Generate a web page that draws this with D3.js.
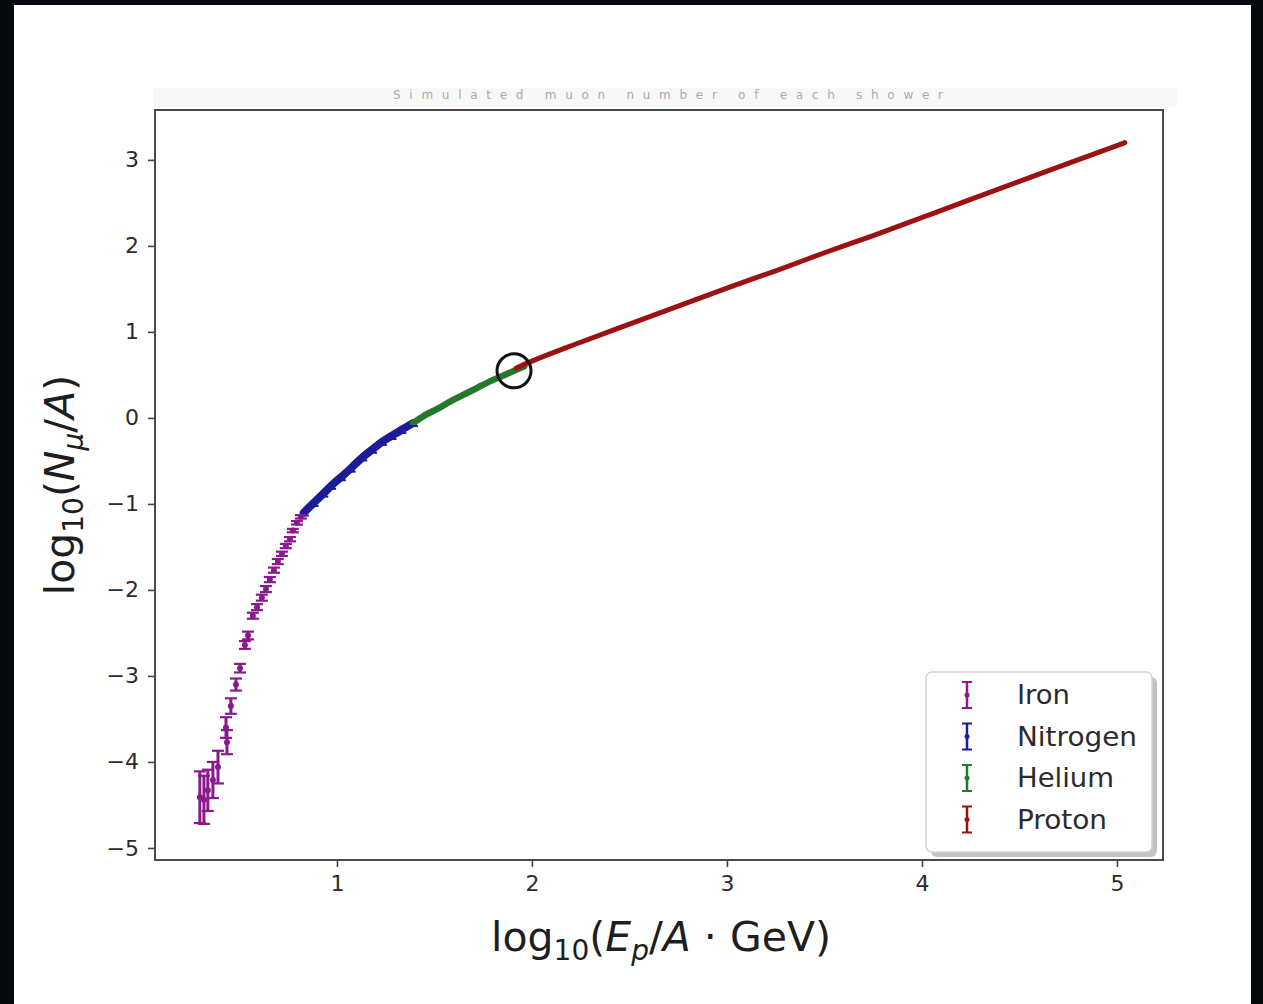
<!DOCTYPE html>
<html>
<head>
<meta charset="utf-8">
<script src="https://cdn.jsdelivr.net/npm/d3@7"></script>
<style>
  html, body { margin: 0; padding: 0; background: #ffffff; }
  svg { display: block; font-family: 'DejaVu Sans', sans-serif; }
</style>
</head>
<body>
<div id="graph"></div>
<script>
// Iron: x, y and error
const ironX = [0.297, 0.318, 0.338, 0.364, 0.390, 0.431, 0.436, 0.456, 0.482, 0.503,
  0.528, 0.544, 0.569, 0.590, 0.615, 0.636, 0.656, 0.677, 0.697, 0.718,
  0.738, 0.759, 0.774, 0.795, 0.815];
const ironY = [-4.41, -4.44, -4.33, -4.21, -4.06, -3.60, -3.77, -3.35, -3.10, -2.91,
  -2.64, -2.53, -2.30, -2.20, -2.09, -1.99, -1.88, -1.77, -1.67, -1.58,
  -1.49, -1.41, -1.31, -1.22, -1.15];
const ironErr = [0.30, 0.28, 0.24, 0.21, 0.19, 0.12, 0.14, 0.09, 0.07, 0.05,
  0.045, 0.045, 0.035, 0.035, 0.035, 0.035, 0.03, 0.03, 0.03, 0.025,
  0.025, 0.025, 0.02, 0.02, 0.02];

// Nitrogen
const nitrogenX = [0.83, 0.88, 0.93, 0.97, 1.02, 1.07, 1.13, 1.18, 1.23, 1.28, 1.33, 1.39];
const nitrogenY = [-1.10, -0.99, -0.88, -0.79, -0.69, -0.59, -0.46, -0.37, -0.28, -0.21, -0.14, -0.06];

// Helium
const heliumX = [1.39, 1.45, 1.52, 1.58, 1.65, 1.72, 1.79, 1.86, 1.93, 1.96];
const heliumY = [-0.06, 0.03, 0.11, 0.19, 0.27, 0.35, 0.43, 0.50, 0.57, 0.60];

// Proton
const protonX = [1.92, 2.0, 2.25, 2.5, 2.75, 3.0, 3.25, 3.5, 3.75, 4.0, 4.25, 4.5, 4.75, 5.04];
const protonY = [0.58, 0.66, 0.88, 1.09, 1.30, 1.51, 1.71, 1.92, 2.12, 2.33, 2.54, 2.75, 2.96, 3.20];

// Circled point where helium meets proton
const markX = [1.908];
const markY = [0.547];

// Ticks and legend
const xTicks = [1, 2, 3, 4, 5];
const yTicks = [3, 2, 1, 0, -1, -2, -3, -4, -5];
const seriesNames = ['Iron', 'Nitrogen', 'Helium', 'Proton'];
const seriesColors = ['#8a1a8c', '#1c1c98', '#23782a', '#9c1212'];

drawChart();

function drawChart() {
  const w = 1263;
  const h = 1004;

  // plot box
  const left = 155, right = 1163, top = 110, bottom = 860;

  const xScale = d3.scaleLinear().domain([0.067, 5.236]).range([left, right]);
  const yScale = d3.scaleLinear().domain([-5.14, 3.58]).range([bottom, top]);

  const svg = d3.select('#graph')
      .append('svg')
      .attr('width', w)
      .attr('height', h);

  // dark frame of the screenshot
  svg.append('rect').attr('x', 0).attr('y', 0).attr('width', w).attr('height', h).attr('fill', '#05080d');
  svg.append('rect').attr('x', 14).attr('y', 5).attr('width', 1237).attr('height', h - 5).attr('fill', '#ffffff');

  // washed-out title
  svg.append('rect')
      .attr('x', 153).attr('y', 88).attr('width', 1024).attr('height', 19)
      .attr('fill', '#f8f8f8');
  svg.append('text')
      .attr('x', 668).attr('y', 99)
      .attr('text-anchor', 'middle')
      .attr('font-size', 12)
      .attr('fill', '#acacac')
      .attr('textLength', 550)
      .attr('lengthAdjust', 'spacing')
      .text('Simulated muon number of each shower');

  // axes
  const xAxis = d3.axisBottom(xScale).tickValues(xTicks).tickSize(7).tickPadding(8)
      .tickFormat(d3.format('d'));
  const yAxis = d3.axisLeft(yScale).tickValues(yTicks).tickSize(7).tickPadding(9)
      .tickFormat((d) => (d < 0 ? '\u2212' + Math.abs(d) : d));

  const gx = svg.append('g')
      .attr('transform', 'translate(0,' + bottom + ')')
      .call(xAxis);
  const gy = svg.append('g')
      .attr('transform', 'translate(' + left + ',0)')
      .call(yAxis);

  [gx, gy].forEach(function(g) {
    g.select('.domain').remove();
    g.selectAll('line').attr('stroke', '#444').attr('stroke-width', 1.6);
    g.selectAll('text')
        .attr('font-family', "'DejaVu Sans', sans-serif")
        .attr('font-size', 22)
        .attr('fill', '#2b2b2b');
  });

  // frame of the axes
  svg.append('rect')
      .attr('x', left).attr('y', top)
      .attr('width', right - left).attr('height', bottom - top)
      .attr('fill', 'none')
      .attr('stroke', '#4a4a4a')
      .attr('stroke-width', 2);

  const plot = svg.append('g');

  const line = d3.line()
      .x((d) => xScale(d[0]))
      .y((d) => yScale(d[1]))
      .curve(d3.curveMonotoneX);

  // dense series drawn as thick lines of markers
  const dense = [
    {x: nitrogenX, y: nitrogenY, color: seriesColors[1], width: 8},
    {x: heliumX, y: heliumY, color: seriesColors[2], width: 6.5},
    {x: protonX, y: protonY, color: seriesColors[3], width: 5},
  ];
  dense.forEach(function(s) {
    const pts = s.x.map((v, i) => [v, s.y[i]]);
    plot.append('path')
        .datum(pts)
        .attr('d', line)
        .attr('fill', 'none')
        .attr('stroke', s.color)
        .attr('stroke-width', s.width)
        .attr('stroke-linecap', 'round');
  });

  // small caps along nitrogen for the jagged look
  plot.selectAll('.ncap')
      .data(nitrogenX.map((v, i) => [v, nitrogenY[i]]))
      .enter()
      .append('line')
      .attr('x1', (d) => xScale(d[0]) - 5)
      .attr('x2', (d) => xScale(d[0]) + 5)
      .attr('y1', (d) => yScale(d[1]) + 3)
      .attr('y2', (d) => yScale(d[1]) + 3)
      .attr('stroke', seriesColors[1])
      .attr('stroke-width', 2);

  // iron error bars
  const iron = ironX.map((v, i) => ({x: v, y: ironY[i], e: ironErr[i]}));
  const capW = 6;
  const ironG = plot.selectAll('.iron')
      .data(iron)
      .enter()
      .append('g')
      .attr('stroke', seriesColors[0])
      .attr('fill', seriesColors[0]);
  ironG.append('line')
      .attr('x1', (d) => xScale(d.x)).attr('x2', (d) => xScale(d.x))
      .attr('y1', (d) => yScale(d.y - d.e)).attr('y2', (d) => yScale(d.y + d.e))
      .attr('stroke-width', 3);
  ironG.append('line')
      .attr('x1', (d) => xScale(d.x) - capW).attr('x2', (d) => xScale(d.x) + capW)
      .attr('y1', (d) => yScale(d.y - d.e)).attr('y2', (d) => yScale(d.y - d.e))
      .attr('stroke-width', 2.2);
  ironG.append('line')
      .attr('x1', (d) => xScale(d.x) - capW).attr('x2', (d) => xScale(d.x) + capW)
      .attr('y1', (d) => yScale(d.y + d.e)).attr('y2', (d) => yScale(d.y + d.e))
      .attr('stroke-width', 2.2);
  ironG.append('circle')
      .attr('cx', (d) => xScale(d.x)).attr('cy', (d) => yScale(d.y))
      .attr('r', 3)
      .attr('stroke', 'none');

  // black ring
  plot.selectAll('.ring')
      .data(markX.map((v, i) => [v, markY[i]]))
      .enter()
      .append('circle')
      .attr('cx', (d) => xScale(d[0]))
      .attr('cy', (d) => yScale(d[1]))
      .attr('r', 17)
      .attr('fill', 'none')
      .attr('stroke', '#111')
      .attr('stroke-width', 3);

  // axis labels
  const xl = svg.append('text')
      .attr('x', 661).attr('y', 951)
      .attr('text-anchor', 'middle')
      .attr('font-size', 41)
      .attr('fill', '#1e1e1e');
  xl.append('tspan').text('log');
  xl.append('tspan').attr('font-size', 28).attr('dy', 9).text('10');
  xl.append('tspan').attr('dy', -9).text('(');
  xl.append('tspan').attr('font-style', 'italic').text('E');
  xl.append('tspan').attr('font-style', 'italic').attr('font-size', 28).attr('dy', 9).text('p');
  xl.append('tspan').attr('dy', -9).text('/');
  xl.append('tspan').attr('font-style', 'italic').text('A');
  xl.append('tspan').text(' \u00b7 GeV)');

  const yl = svg.append('text')
      .attr('transform', 'translate(74,485) rotate(-90)')
      .attr('text-anchor', 'middle')
      .attr('font-size', 41)
      .attr('fill', '#1e1e1e');
  yl.append('tspan').text('log');
  yl.append('tspan').attr('font-size', 28).attr('dy', 9).text('10');
  yl.append('tspan').attr('dy', -9).text('(');
  yl.append('tspan').attr('font-style', 'italic').text('N');
  yl.append('tspan').attr('font-style', 'italic').attr('font-size', 28).attr('dy', 9).text('\u03bc');
  yl.append('tspan').attr('dy', -9).text('/');
  yl.append('tspan').attr('font-style', 'italic').text('A');
  yl.append('tspan').text(')');

  // legend
  const lg = svg.append('g').attr('transform', 'translate(926,672)');
  lg.append('rect')
      .attr('x', 5).attr('y', 5).attr('width', 226).attr('height', 180)
      .attr('rx', 6).attr('fill', '#9a9a9a').attr('opacity', 0.6);
  lg.append('rect')
      .attr('x', 0).attr('y', 0).attr('width', 226).attr('height', 180)
      .attr('rx', 6).attr('fill', '#ffffff')
      .attr('stroke', '#d4d4d4').attr('stroke-width', 1.5);

  const item = lg.selectAll('.item')
      .data(seriesNames)
      .enter()
      .append('g')
      .attr('transform', (d, i) => 'translate(0,' + (23 + i * 41.5) + ')');
  item.append('line')
      .attr('x1', 41).attr('x2', 41).attr('y1', -13).attr('y2', 13)
      .attr('stroke', (d, i) => seriesColors[i]).attr('stroke-width', 2.5);
  item.append('line')
      .attr('x1', 36).attr('x2', 46).attr('y1', -13).attr('y2', -13)
      .attr('stroke', (d, i) => seriesColors[i]).attr('stroke-width', 2);
  item.append('line')
      .attr('x1', 36).attr('x2', 46).attr('y1', 13).attr('y2', 13)
      .attr('stroke', (d, i) => seriesColors[i]).attr('stroke-width', 2);
  item.append('circle')
      .attr('cx', 41).attr('cy', 0).attr('r', 2.5)
      .attr('fill', (d, i) => seriesColors[i]);
  item.append('text')
      .attr('x', 91).attr('y', 9)
      .attr('font-size', 27)
      .attr('textLength', (d) => ({Iron: 53, Nitrogen: 120, Helium: 97, Proton: 90})[d])
      .attr('lengthAdjust', 'spacingAndGlyphs')
      .attr('fill', '#2b2b2b')
      .text((d) => d);
}
</script>
</body>
</html>
